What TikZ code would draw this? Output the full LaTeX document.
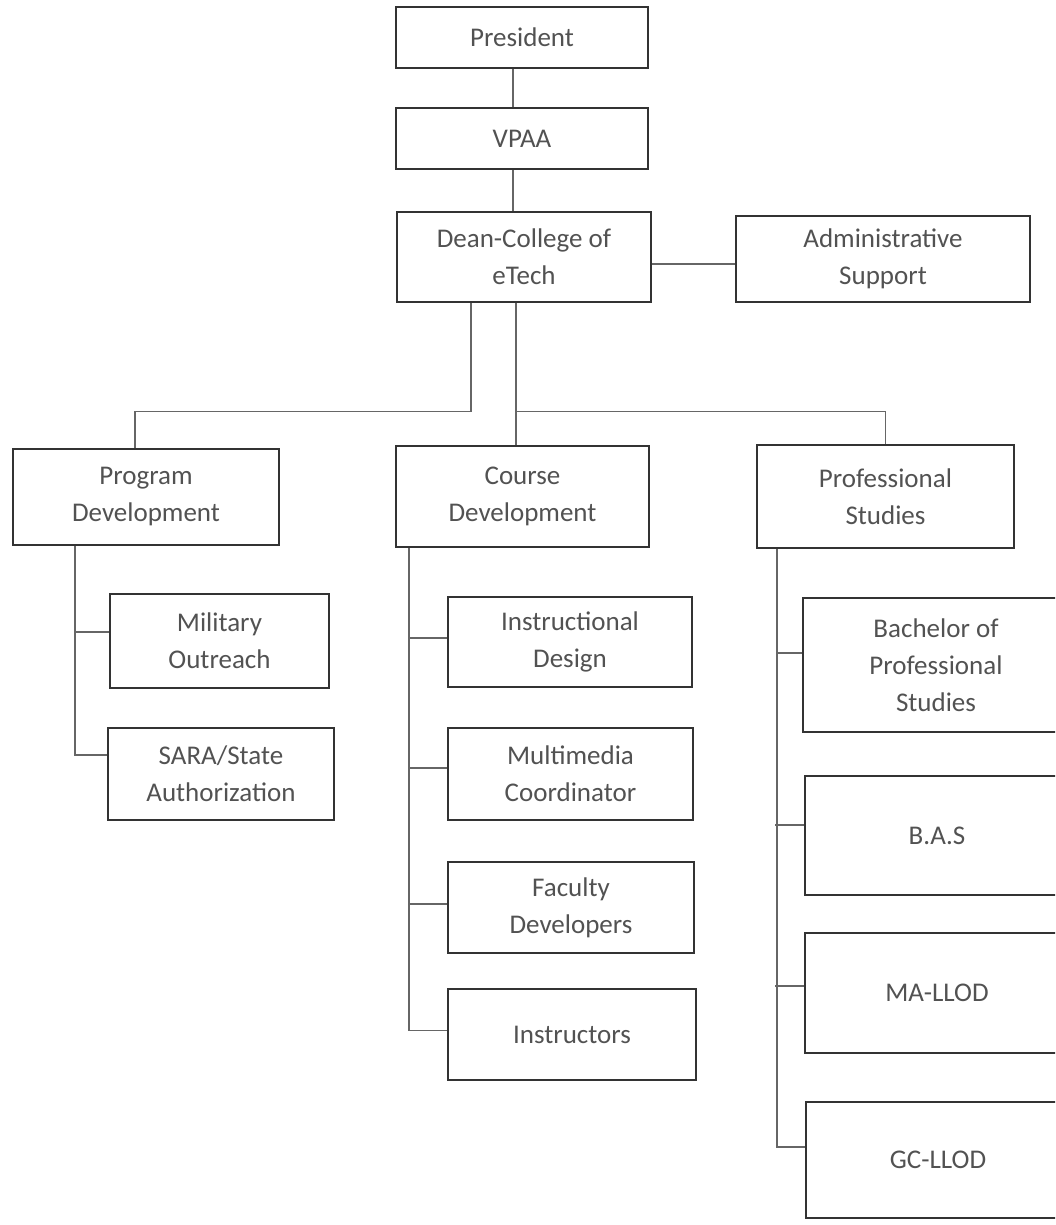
\documentclass[tikz,border=0pt]{standalone}
\usepackage{fontspec}
\setmainfont{Carlito}

\begin{document}
\begin{tikzpicture}[x=1pt,y=-1pt]
\tikzstyle{block} = [rectangle, draw=black!80, line width=1.6pt, text=black!68,
align=center, inner sep=0pt, font=\fontsize{27}{37}\selectfont]
\tikzstyle{line} = [draw, black!60, line width=1.2pt]

\clip (0,0) rectangle (1055,1225);

% top of the chart
\node [block, minimum width=252pt, minimum height=61pt] (pres) at (522,37.5) {President};
\node [block, minimum width=252pt, minimum height=61pt] (vpaa) at (522,138.5) {VPAA};
\node [block, minimum width=254pt, minimum height=90pt] (dean) at (524,257) {Dean-College of\\eTech};
\node [block, minimum width=294pt, minimum height=86pt] (admin) at (883,259) {Administrative\\Support};

% second level
\node [block, minimum width=266pt, minimum height=96pt] (progdev) at (146,497) {Program\\Development};
\node [block, minimum width=253pt, minimum height=101pt] (coursedev) at (522.5,496.5) {Course\\Development};
\node [block, minimum width=257pt, minimum height=103pt] (profst) at (885.5,496.5) {Professional\\Studies};

% under program development
\node [block, minimum width=219pt, minimum height=94pt] (military) at (219.5,641) {Military\\Outreach};
\node [block, minimum width=226pt, minimum height=92pt] (sara) at (221,774) {SARA/State\\Authorization};

% under course development
\node [block, minimum width=244pt, minimum height=90pt] (instdes) at (570,642) {Instructional\\Design};
\node [block, minimum width=245pt, minimum height=92pt] (multimed) at (570.5,774) {Multimedia\\Coordinator};
\node [block, minimum width=246pt, minimum height=91pt] (faculty) at (571,907.5) {Faculty\\Developers};
\node [block, minimum width=248pt, minimum height=91pt] (instr) at (572,1034.5) {Instructors};

% under professional studies
\node [block, minimum width=266pt, minimum height=134pt] (bach) at (936,665) {Bachelor of\\Professional\\Studies};
\node [block, minimum width=264pt, minimum height=119pt] (bas) at (937,835.5) {B.A.S};
\node [block, minimum width=264pt, minimum height=120pt] (mallod) at (937,993) {MA-LLOD};
\node [block, minimum width=264pt, minimum height=116pt] (gcllod) at (938,1160) {GC-LLOD};

\tikzstyle{every path}=[line]
\path ([xshift=-9pt]pres.south) -- ([xshift=-9pt]vpaa.north);
\path ([xshift=-9pt]vpaa.south) -- ([xshift=-11pt]dean.north);
\path ([yshift=-7pt]dean.east) -- ([yshift=-5pt]admin.west);

\path ([xshift=-53pt]dean.south) -- ++(0,109) -| ([xshift=-11pt]progdev.north);
\path ([xshift=-8pt]dean.south) -- ([xshift=-6.5pt]coursedev.north);
\path ([xshift=-8pt]dean.south) ++(0,109) -| (profst.north);

% program development
\path ([xshift=-71pt]progdev.south) |- ([yshift=19pt]sara.west);
\path ([yshift=9pt]military.west) -- +(-35pt,0);

% course development
\path ([xshift=-113.5pt]coursedev.south) |- ([yshift=4pt]instr.west);
\path ([yshift=4pt]instdes.west) -- +(-39pt,0);
\path ([yshift=6pt]multimed.west) -- +(-39pt,0);
\path ([yshift=3.5pt]faculty.west) -- +(-39pt,0);

% professional studies
\path ([xshift=-108.5pt]profst.south) |- ([yshift=13pt]gcllod.west);
\path ([yshift=12pt]bach.west) -- +(-26pt,0);
\path ([yshift=10.5pt]bas.west) -- +(-29pt,0);
\path ([yshift=7pt]mallod.west) -- +(-29pt,0);

\end{tikzpicture}
\end{document}
